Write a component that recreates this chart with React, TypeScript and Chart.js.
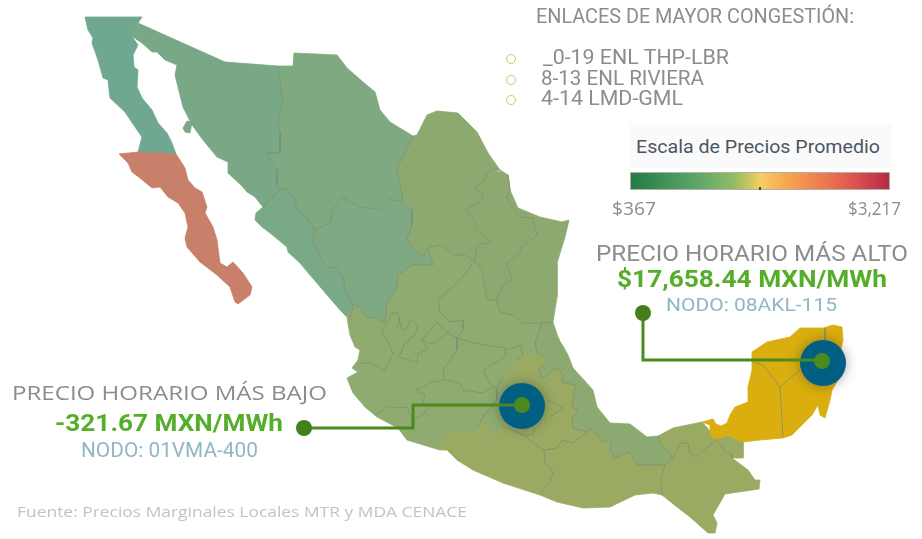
import React, { useEffect, useLayoutEffect, useRef } from "react";
import { Chart, registerables } from "chart.js";

Chart.register(...registerables);

type P = [number, number];

const bajaNorte: P[] = [[85,17],[142,17],[138,23],[133,30],[133,38],[138,45],[133,55],[134,67],[138,70],[137,87],[142,98],[152,110],[158,123],[167,133],[172,143],[176,154],[138,152],[142,137],[135,127],[125,112],[110,98],[108,80],[103,78],[98,60],[92,43],[93,38],[88,30]];
const bajaSur: P[] = [[119,154],[138,152],[176,154],[185,168],[188,180],[195,188],[202,192],[207,207],[205,213],[213,227],[217,240],[220,263],[227,267],[233,262],[243,273],[252,287],[250,295],[238,304],[235,302],[230,287],[217,275],[200,262],[187,247],[185,238],[188,227],[185,213],[178,203],[168,197],[160,187],[152,188],[140,178],[132,172],[128,163]];
const sonora: P[] = [[138,23],[225,62],[278,66],[280,82],[283,100],[278,120],[280,133],[280,153],[267,153],[277,170],[277,185],[281,189],[263,207],[255,197],[247,192],[243,187],[228,173],[228,162],[217,157],[203,140],[192,125],[183,107],[175,75],[177,65],[165,60],[157,52],[152,52],[142,43],[133,37],[133,30]];
const tiburon: P[] = [[183,128],[187,121],[192,122],[190,133],[185,132]];
const chihuahua: P[] = [[294,53],[337,55],[347,68],[363,82],[375,92],[380,110],[390,122],[413,136],[397,168],[403,202],[390,199],[380,210],[360,207],[342,197],[333,210],[330,223],[315,230],[307,218],[297,210],[295,198],[285,188],[281,189],[277,185],[277,170],[267,153],[280,153],[280,133],[278,120],[283,100],[280,82],[278,66],[293,66]];
const sinaloa: P[] = [[263,207],[281,189],[285,188],[295,198],[297,210],[307,218],[315,230],[313,240],[320,257],[328,268],[335,267],[343,277],[345,290],[353,305],[350,320],[340,310],[310,275],[300,263],[288,252],[287,247],[270,233],[262,227],[255,220],[256,213]];
const durango: P[] = [[315,230],[330,223],[333,210],[342,197],[360,207],[380,210],[390,199],[403,202],[412,210],[412,225],[407,240],[423,257],[428,248],[433,265],[412,265],[398,275],[397,287],[387,303],[385,323],[373,317],[367,318],[360,307],[353,305],[345,290],[343,277],[335,267],[328,268],[320,257],[313,240]];
const coahuila: P[] = [[413,136],[417,135],[427,115],[437,111],[458,113],[477,132],[488,153],[500,170],[492,170],[487,173],[483,182],[475,187],[477,191],[483,193],[482,200],[466,210],[475,222],[477,230],[482,235],[492,242],[477,245],[475,261],[465,255],[455,255],[440,245],[428,248],[423,257],[407,240],[412,225],[412,210],[403,202],[397,168]];
const nuevoLeon: P[] = [[500,172],[492,170],[487,173],[483,182],[475,187],[477,191],[483,193],[482,200],[466,210],[475,222],[477,230],[482,235],[492,242],[477,245],[475,261],[482,270],[487,300],[497,300],[503,285],[512,280],[507,263],[518,255],[522,247],[537,235],[533,218],[520,217],[512,207],[507,197],[510,190],[508,175]];
const tamaulipas: P[] = [[500,170],[508,175],[510,190],[518,208],[540,217],[562,222],[569,220],[565,237],[557,263],[557,297],[553,322],[542,323],[522,323],[513,315],[500,312],[496,300],[503,285],[512,280],[507,263],[518,255],[522,247],[537,235],[533,218],[520,217],[512,207],[507,197],[510,190]];
const centro: P[] = [[353,305],[347,318],[350,335],[355,347],[360,350],[358,360],[352,368],[358,372],[347,378],[353,393],[365,407],[377,417],[398,428],[407,440],[440,450],[442,445],[450,432],[457,432],[478,433],[479,426],[487,425],[490,437],[503,427],[525,405],[503,377],[513,372],[517,360],[535,355],[537,353],[535,342],[542,323],[522,323],[513,315],[500,312],[496,300],[487,300],[482,270],[475,261],[465,255],[455,255],[440,245],[428,248],[433,265],[412,265],[398,275],[397,287],[387,303],[385,323],[373,317],[367,318],[360,307]];
const veracruz: P[] = [[553,322],[558,337],[568,355],[573,368],[593,390],[597,407],[610,423],[630,424],[647,437],[658,436],[660,443],[670,453],[672,459],[665,465],[637,465],[629,452],[614,458],[610,450],[612,442],[602,441],[590,428],[588,432],[573,428],[572,417],[578,410],[572,407],[575,385],[562,382],[563,375],[558,368],[553,370],[548,375],[542,378],[538,370],[547,360],[538,352],[537,353],[535,342],[542,323]];
const surCentro: P[] = [[503,377],[513,372],[517,360],[535,355],[538,352],[547,360],[538,370],[542,378],[548,375],[553,370],[558,368],[563,375],[562,382],[575,385],[572,407],[578,410],[572,417],[573,428],[588,432],[590,428],[602,441],[612,442],[610,450],[614,458],[629,452],[637,465],[665,465],[661,480],[662,495],[653,493],[635,495],[610,507],[583,508],[557,502],[540,495],[503,483],[473,470],[457,460],[447,450],[440,450],[442,445],[450,432],[457,432],[478,433],[479,426],[487,425],[490,437],[503,427],[525,405]];
const tabasco: P[] = [[658,436],[673,428],[702,422],[712,433],[717,438],[725,435],[743,441],[743,458],[732,458],[732,455],[725,452],[717,440],[710,445],[696,457],[690,453],[688,443],[680,443],[672,459],[670,453],[660,443]];
const chiapas: P[] = [[665,465],[672,459],[680,443],[688,443],[690,453],[696,457],[710,445],[717,440],[725,452],[732,455],[732,458],[748,470],[755,480],[760,480],[759,489],[725,494],[713,515],[717,523],[715,533],[708,533],[690,517],[677,507],[662,495],[661,480]];
const yucatan: P[] = [[702,422],[713,419],[716,424],[721,426],[727,423],[730,415],[735,407],[748,402],[748,387],[752,370],[752,352],[767,342],[790,337],[800,328],[823,328],[833,325],[842,327],[843,340],[840,353],[838,380],[832,390],[830,400],[825,418],[820,415],[818,405],[812,415],[792,435],[783,438],[760,440],[743,442],[727,435],[715,440],[710,433],[710,425]];
const laguna: P[] = [[560,340],[564,338],[568,345],[567,350],[562,343]];

const regions: { name: string; points: P[]; color: string }[] = [
  { name: "Baja California", points: bajaNorte, color: "#70A791" },
  { name: "Baja California Sur", points: bajaSur, color: "#C9806B" },
  { name: "Sonora", points: sonora, color: "#78A886" },
  { name: "Tiburón", points: tiburon, color: "#78A886" },
  { name: "Chihuahua", points: chihuahua, color: "#7EA981" },
  { name: "Sinaloa", points: sinaloa, color: "#79A987" },
  { name: "Durango", points: durango, color: "#7FA983" },
  { name: "Coahuila", points: coahuila, color: "#8CA96F" },
  { name: "Nuevo León", points: nuevoLeon, color: "#8DA96F" },
  { name: "Tamaulipas", points: tamaulipas, color: "#8DA96F" },
  { name: "Centro", points: centro, color: "#8FAB70" },
  { name: "Veracruz", points: veracruz, color: "#8BA971" },
  { name: "Sur-Centro", points: surCentro, color: "#9AAA62" },
  { name: "Tabasco", points: tabasco, color: "#99AB63" },
  { name: "Chiapas", points: chiapas, color: "#99AB63" },
  { name: "Península", points: yucatan, color: "#D9AE0E" },
  { name: "Laguna", points: laguna, color: "#FFFFFF" },
];

const borders: P[][] = [
  [[278,66],[280,82],[283,100],[278,120],[280,133],[280,153],[267,153],[277,170],[277,185],[281,189],[285,188]],
  [[281,189],[263,207]],
  [[285,188],[295,198],[297,210],[307,218],[315,230],[330,223],[333,210],[342,197],[360,207],[380,210],[390,199],[403,202]],
  [[315,230],[313,240],[320,257],[328,268],[335,267],[343,277],[345,290],[353,305]],
  [[413,136],[397,168],[403,202],[412,210],[412,225],[407,240],[423,257],[428,248],[433,265],[412,265],[398,275],[397,287],[387,303],[385,323],[373,317],[367,318],[360,307],[353,305],[350,320]],
  [[428,248],[440,245],[455,255],[465,255],[475,261],[482,270],[487,300],[497,300],[496,300],[500,312],[513,315],[522,323],[542,323],[553,322]],
  [[500,170],[492,170],[487,173],[483,182],[475,187],[477,191],[483,193],[482,200],[466,210],[475,222],[477,230],[482,235],[492,242],[477,245],[475,261]],
  [[508,175],[510,190],[507,197],[512,207],[520,217],[533,218],[537,235],[522,247],[518,255],[507,263],[512,280],[503,285],[497,300]],
  [[542,323],[535,342],[537,353],[538,352],[547,360],[538,370],[542,378],[548,375],[553,370],[558,368],[563,375],[562,382],[575,385],[572,407],[578,410],[572,417],[573,428],[588,432],[590,428],[602,441],[612,442],[610,450],[614,458],[629,452],[637,465],[665,465],[672,459],[670,453],[660,443],[658,436]],
  [[665,465],[661,480],[662,495]],
  [[672,459],[680,443],[688,443],[690,453],[696,457],[710,445],[717,440],[725,452],[732,455],[732,458]],
  [[717,440],[715,438]],
  [[372,363],[384,371],[393,353],[388,342],[382,333],[387,323]],
  [[360,363],[372,363]],
  [[387,323],[392,313],[398,313],[399,322],[397,329]],
  [[399,317],[402,330],[407,328],[410,320],[418,325],[415,335],[405,343],[399,357],[417,362],[418,353],[428,350],[422,340],[437,322],[448,333],[435,343],[428,343],[422,340]],
  [[475,261],[460,280],[438,300],[440,312],[450,322],[462,320],[463,330],[457,338],[448,333]],
  [[457,338],[457,350],[443,370],[445,380],[460,383],[463,390],[483,393],[492,387],[483,370],[505,357],[505,348],[473,343],[457,338]],
  [[505,350],[513,348],[520,345],[523,355],[517,360]],
  [[492,387],[497,388],[503,377]],
  [[445,380],[432,382],[416,390],[425,395],[423,403],[428,407],[423,415],[417,418],[410,415],[407,407],[395,408],[388,406],[375,415]],
  [[497,388],[497,400],[483,417],[478,426]],
  [[503,427],[513,430],[527,437],[533,443],[544,450],[545,463],[553,472],[550,482],[540,493]],
  [[544,450],[557,448],[562,440],[573,443],[587,432]],
  [[513,430],[522,435],[533,435],[535,428]],
  [[548,400],[563,408],[550,417]],
  [[753,362],[763,365],[780,387],[783,437]],
  [[780,387],[800,370]],
  [[825,328],[825,340]],
];

const leaderBajo: P[] = [[304,428],[413,428],[413,405],[522,405]];
const leaderAlto: P[] = [[643,313],[643,360],[822,360]];
const nodos: P[] = [[522,406],[823,363]];
const nucleos: P[] = [[522,405],[822,361]];
const extremos: P[] = [[304,428],[643,313]];

const listaEnlaces = ["_0-19 ENL THP-LBR", "8-13 ENL RIVIERA", "4-14 LMD-GML"];
const gradiente = "linear-gradient(to right,#217A45 0%,#3E9156 12%,#5AA56A 25%,#94BC64 40%,#C9C75F 46%,#F5CF62 50%,#F9A650 60%,#EC7650 76%,#D94F4F 88%,#B62A45 100%)";

const toXY = (pts: P[]) => pts.map(([x, y]) => ({ x, y }));

const glow = {
  id: "glow",
  beforeDatasetDraw(chart: any, args: any) {
    if (chart.data.datasets[args.index].label === "Nodos") {
      chart.ctx.save();
      chart.ctx.shadowColor = "rgba(40,40,40,0.42)";
      chart.ctx.shadowBlur = 12;
    }
  },
  afterDatasetDraw(chart: any, args: any) {
    if (chart.data.datasets[args.index].label === "Nodos") chart.ctx.restore();
  },
};

type LabelProps = { text: string; left: number; right: number; y: number; size: number; color: string; font: string; weight?: number };

function Label({ text, left, right, y, size, color, font, weight = 400 }: LabelProps) {
  const ref = useRef<HTMLDivElement>(null);
  useLayoutEffect(() => {
    const el = ref.current;
    if (!el) return;
    el.style.transform = "none";
    const w = el.getBoundingClientRect().width;
    el.style.transform = `translateY(-50%) scaleX(${(right - left) / w})`;
  }, []);
  return (
    <div
      ref={ref}
      style={{ position: "absolute", left, top: y, transform: "translateY(-50%)", transformOrigin: "left center", whiteSpace: "pre", fontFamily: font, fontSize: size, fontWeight: weight, color, lineHeight: 1 }}
    >
      {text}
    </div>
  );
}

export default function App() {
  const canvas = useRef<HTMLCanvasElement>(null);
  useEffect(() => {
    if (!canvas.current) return;
    const painter: any[] = [];
    regions.forEach((r) =>
      painter.push({
        label: r.name,
        data: toXY([...r.points, r.points[0]]),
        showLine: true,
        fill: "shape",
        backgroundColor: r.color,
        borderColor: r.color,
        borderWidth: 0.8,
        pointRadius: 0,
        tension: 0,
      })
    );
    borders.forEach((b, i) =>
      painter.push({
        label: `Frontera ${i + 1}`,
        data: toXY(b),
        showLine: true,
        fill: false,
        borderColor: "#7F8E73",
        borderWidth: 0.8,
        pointRadius: 0,
        tension: 0,
      })
    );
    painter.push({ label: "Nodos", data: toXY(nodos), showLine: false, pointRadius: 23, pointBackgroundColor: "#005F82", pointBorderWidth: 0 });
    [leaderBajo, leaderAlto].forEach((l, i) =>
      painter.push({ label: `Guía ${i + 1}`, data: toXY(l), showLine: true, fill: false, borderColor: "#4A8A1E", borderWidth: 3, pointRadius: 0, tension: 0 })
    );
    painter.push({ label: "Núcleos", data: toXY(nucleos), showLine: false, pointRadius: 8, pointBackgroundColor: "#4A8A1E", pointBorderWidth: 0 });
    painter.push({ label: "Extremos", data: toXY(extremos), showLine: false, pointRadius: 8, pointBackgroundColor: "#447F1C", pointBorderWidth: 0 });

    const chart = new Chart(canvas.current, {
      type: "scatter",
      data: { datasets: painter.reverse() },
      options: {
        animation: false,
        responsive: false,
        layout: { padding: 0, autoPadding: false },
        plugins: { legend: { display: false }, tooltip: { enabled: false } },
        scales: {
          x: { type: "linear", min: 0, max: 922, display: false },
          y: { type: "linear", min: 0, max: 539, reverse: true, display: false },
        },
      },
      plugins: [glow],
    } as any);
    return () => chart.destroy();
  }, []);

  const gris = "#8C8C8C";
  const verde = "#55AE2A";
  const azul = "#8FB7C4";
  const cond = "Roboto, sans-serif";
  const anch = "'Open Sans', sans-serif";
  return (
    <div style={{ position: "fixed", left: 0, top: 0, width: 922, height: 539, background: "#fff", overflow: "hidden" }}>
      <canvas ref={canvas} width={922} height={539} style={{ position: "absolute", left: 0, top: 0, width: 922, height: 539 }} />
      <Label text="ENLACES DE MAYOR CONGESTIÓN:" left={536} right={854} y={16} size={20} color={gris} font={cond} />
      {listaEnlaces.map((t, i) => (
        <React.Fragment key={t}>
          <div style={{ position: "absolute", left: 506, top: [54, 75, 95][i], width: 10, height: 10, boxSizing: "border-box", border: "1.3px solid #A4DC6A", borderRadius: "50%" }} />
          <Label text={t} left={[543, 541, 541][i]} right={[729, 704, 683][i]} y={[57, 78, 98][i]} size={20} color={gris} font={cond} />
        </React.Fragment>
      ))}
      <div style={{ position: "absolute", left: 630, top: 124, width: 262, height: 44, background: "#FAFAFA" }} />
      <Label text="Escala de Precios Promedio" left={636} right={880} y={146} size={19} color="#4C5661" font={cond} />
      <div style={{ position: "absolute", left: 630, top: 172, width: 260, height: 18, boxSizing: "border-box", border: "1px solid #B2AEA8", background: gradiente }} />
      <div style={{ position: "absolute", left: 759, top: 187, width: 2, height: 3, background: "#444" }} />
      <Label text="$367" left={612} right={656} y={208} size={18} color={gris} font={anch} />
      <Label text="$3,217" left={848} right={901} y={208} size={18} color={gris} font={anch} />
      <Label text="PRECIO HORARIO MÁS ALTO" left={596} right={908} y={254} size={22} color={gris} font={cond} />
      <Label text="$17,658.44 MXN/MWh" left={617} right={887} y={279} size={24} weight={700} color={verde} font={cond} />
      <Label text="NODO: 08AKL-115" left={666} right={837} y={304} size={19} color={azul} font={cond} />
      <Label text="PRECIO HORARIO MÁS BAJO" left={12} right={327} y={393} size={20} color={gris} font={anch} />
      <Label text="-321.67 MXN/MWh" left={55} right={283} y={423} size={24} weight={700} color={verde} font={cond} />
      <Label text="NODO: 01VMA-400" left={81} right={258} y={450} size={20} color={azul} font={cond} />
      <Label text="Fuente: Precios Marginales Locales MTR y MDA CENACE" left={17} right={467} y={511} size={15} color="#BAC6C7" font={anch} />
    </div>
  );
}
